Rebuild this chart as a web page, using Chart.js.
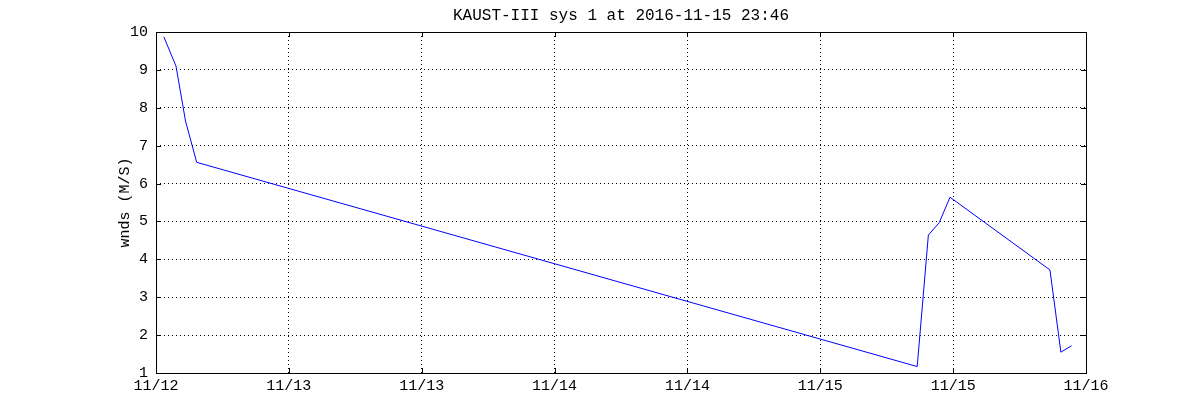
<!DOCTYPE html>
<html>
<head>
<meta charset="utf-8">
<script src="https://cdn.jsdelivr.net/npm/chart.js@4/dist/chart.umd.min.js"></script>
<style>
  html, body { margin: 0; padding: 0; background: #fff; }
  canvas { display: block; }
</style>
</head>
<body>
<canvas id="windChart" width="1200" height="420"></canvas>
<script>
// days since 11/12 00:00
const sampleDays = [0.034, 0.086, 0.127, 0.175, 3.274, 3.322, 3.369, 3.415, 3.845, 3.892, 3.938];
// wind speed, M/S
const windSpeeds = [9.87, 9.10, 7.65, 6.56, 1.17, 4.64, 4.97, 5.64, 3.72, 1.55, 1.72];
const xTickLabels = ['11/12', '11/13', '11/13', '11/14', '11/14', '11/15', '11/15', '11/16'];
const yTickValues = [1, 2, 3, 4, 5, 6, 7, 8, 9, 10];
const X_SPAN_DAYS = 4;

const FONT = 'Liberation Mono';

// matlab style box with inward tick marks
const boxPlugin = {
    id: 'box',
    afterDraw(chart) {
        const { ctx, chartArea: a, scales } = chart;
        const len = 5;
        ctx.save();
        ctx.strokeStyle = '#000';
        ctx.lineWidth = 1;
        ctx.setLineDash([]);
        ctx.beginPath();
        scales.x.ticks.forEach(t => {
            const px = Math.round(scales.x.getPixelForValue(t.value)) + 0.5;
            ctx.moveTo(px, a.bottom); ctx.lineTo(px, a.bottom - len);
            ctx.moveTo(px, a.top); ctx.lineTo(px, a.top + len);
        });
        scales.y.ticks.forEach(t => {
            const py = Math.round(scales.y.getPixelForValue(t.value)) + 0.5;
            ctx.moveTo(a.left, py); ctx.lineTo(a.left + len, py);
            ctx.moveTo(a.right, py); ctx.lineTo(a.right - len, py);
        });
        ctx.stroke();
        ctx.strokeRect(Math.round(a.left) + 0.5, Math.round(a.top) + 0.5,
            Math.round(a.right - a.left), Math.round(a.bottom - a.top));
        ctx.restore();
    }
};

document.addEventListener('DOMContentLoaded', function () {
    const points = sampleDays.map((d, i) => ({ x: d, y: windSpeeds[i] }));

    new Chart(document.getElementById('windChart'), {
        type: 'line',
        data: {
            datasets: [{
                data: points,
                borderColor: '#0000ff',
                borderWidth: 1,
                pointRadius: 0,
                tension: 0,
                fill: false
            }]
        },
        options: {
            responsive: false,
            animation: false,
            layout: { padding: { left: 112, right: 70, top: 0, bottom: 0 } },
            plugins: {
                legend: { display: false },
                tooltip: { enabled: false },
                title: {
                    display: true,
                    text: 'KAUST-III sys 1 at 2016-11-15 23:46',
                    color: '#000',
                    font: { family: FONT, size: 16, weight: 'normal', lineHeight: 1.2 },
                    padding: { top: 6, bottom: 6.8 }
                }
            },
            scales: {
                x: {
                    type: 'linear',
                    min: 0,
                    max: X_SPAN_DAYS,
                    afterBuildTicks: scale => {
                        scale.ticks = xTickLabels.map((_, i) => ({
                            value: i * X_SPAN_DAYS / (xTickLabels.length - 1)
                        }));
                    },
                    afterFit: scale => { scale.height = 47; },
                    ticks: {
                        color: '#000',
                        font: { family: FONT, size: 15 },
                        padding: 4,
                        maxRotation: 0,
                        autoSkip: false,
                        callback: (v, i) => xTickLabels[i]
                    },
                    grid: {
                        color: '#000',
                        drawTicks: false
                    },
                    border: { display: false, dash: [1, 3] }
                },
                y: {
                    type: 'linear',
                    min: 1,
                    max: 10,
                    afterBuildTicks: scale => {
                        scale.ticks = yTickValues.map(v => ({ value: v }));
                    },
                    afterFit: scale => { scale.width = 44; },
                    title: {
                        display: true,
                        text: 'wnds (M/S)',
                        color: '#000',
                        font: { family: FONT, size: 15, lineHeight: 1.2 },
                        padding: { top: 4, bottom: 0 }
                    },
                    ticks: {
                        color: '#000',
                        font: { family: FONT, size: 15 },
                        padding: 8
                    },
                    grid: {
                        color: '#000',
                        drawTicks: false
                    },
                    border: { display: false, dash: [1, 3] }
                },
                // empty right-hand spacer so the title centres over the plot
                ySpacer: {
                    type: 'linear',
                    position: 'right',
                    min: 1,
                    max: 10,
                    afterFit: scale => { scale.width = 44; },
                    ticks: { display: false },
                    grid: { display: false, drawTicks: false },
                    border: { display: false }
                }
            }
        },
        plugins: [boxPlugin]
    });
});
</script>
</body>
</html>
